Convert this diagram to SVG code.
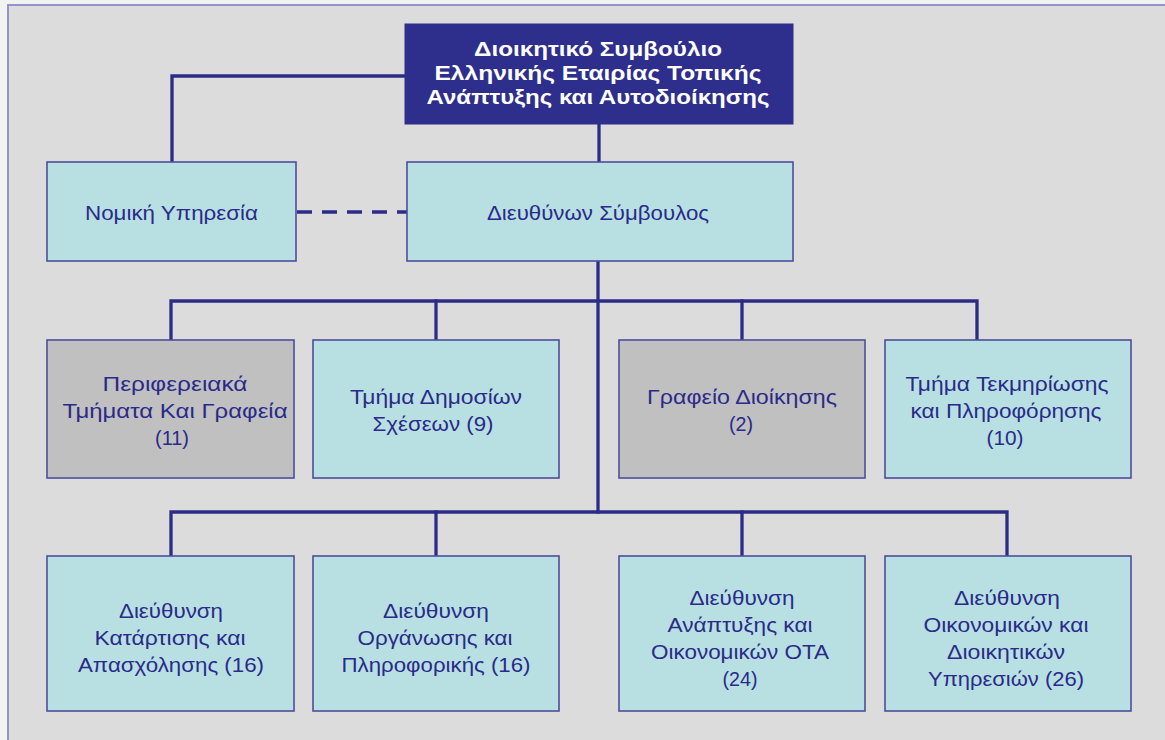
<svg xmlns="http://www.w3.org/2000/svg" width="1165" height="740" viewBox="0 0 1165 740">
<defs>
<style>
.bg{fill:#f2f2f2}
.inner{fill:#dcdcdc}
.frame{stroke:#9393cf;stroke-width:2;fill:none}
.box{fill:#b8e0e2;stroke:#4e4e9e;stroke-width:1.6}
.gray{fill:#c0c0c0;stroke:#4e4e9e;stroke-width:1.6}
.title{fill:#2e2e8c;stroke:#2e2e8c;stroke-width:1}
.conn{stroke:#2c2c86;stroke-width:3.3;fill:none;stroke-linecap:square}
.dash{stroke:#2c2c86;stroke-width:3.3;fill:none;stroke-dasharray:15 10}
text{font-family:"Liberation Sans",Arial,sans-serif;font-size:20.5px;fill:#2a2a8a;text-anchor:middle}
.tt{font-weight:bold;font-size:21px;fill:#ffffff}
</style>
</defs>
<rect class="bg" x="0" y="0" width="1165" height="740"/>
<rect class="inner" x="8" y="5" width="1157" height="735"/>
<path class="frame" d="M8,740 V5 H1165"/>

<g id="connectors">
<path class="conn" d="M405,76 H172 V162"/>
<path class="conn" d="M599,124 V162"/>
<path class="conn" d="M598,261 V512"/>
<path class="conn" d="M171,340 V301 H977 V340"/>
<path class="conn" d="M436,301 V340"/>
<path class="conn" d="M742,301 V340"/>
<path class="conn" d="M171,556 V512 H1007 V556"/>
<path class="conn" d="M436,512 V556"/>
<path class="conn" d="M742,512 V556"/>
<path class="dash" d="M297,212 H407"/>
</g>

<g id="board">
<rect class="title" x="405" y="24" width="388" height="100"/>
<text class="tt" x="598" y="56" textLength="248" lengthAdjust="spacingAndGlyphs">Διοικητικό Συμβούλιο</text>
<text class="tt" x="598" y="80" textLength="327" lengthAdjust="spacingAndGlyphs">Ελληνικής Εταιρίας Τοπικής</text>
<text class="tt" x="598" y="104" textLength="343" lengthAdjust="spacingAndGlyphs">Ανάπτυξης και Αυτοδιοίκησης</text>
</g>

<g id="legal">
<rect class="box" x="47" y="162" width="249" height="99"/>
<text x="171.5" y="220" textLength="173" lengthAdjust="spacingAndGlyphs">Νομική Υπηρεσία</text>
</g>

<g id="ceo">
<rect class="box" x="407" y="162" width="386" height="99"/>
<text x="598" y="220" textLength="222" lengthAdjust="spacingAndGlyphs">Διευθύνων Σύμβουλος</text>
</g>

<g id="regional">
<rect class="gray" x="47" y="340" width="247" height="138"/>
<text x="175" y="391" textLength="145" lengthAdjust="spacingAndGlyphs">Περιφερειακά</text>
<text x="175" y="418" textLength="225" lengthAdjust="spacingAndGlyphs">Τμήματα Και Γραφεία</text>
<text x="172" y="445" textLength="34" lengthAdjust="spacingAndGlyphs">(11)</text>
</g>

<g id="pr">
<rect class="box" x="313" y="340" width="246" height="138"/>
<text x="436" y="404" textLength="172" lengthAdjust="spacingAndGlyphs">Τμήμα Δημοσίων</text>
<text x="433" y="431" textLength="121" lengthAdjust="spacingAndGlyphs">Σχέσεων (9)</text>
</g>

<g id="admin-office">
<rect class="gray" x="619" y="340" width="246" height="138"/>
<text x="742" y="404" textLength="190" lengthAdjust="spacingAndGlyphs">Γραφείο Διοίκησης</text>
<text x="741" y="431" textLength="24" lengthAdjust="spacingAndGlyphs">(2)</text>
</g>

<g id="documentation">
<rect class="box" x="885" y="340" width="246" height="138"/>
<text x="1007" y="391" textLength="203" lengthAdjust="spacingAndGlyphs">Τμήμα Τεκμηρίωσης</text>
<text x="1006" y="418" textLength="191" lengthAdjust="spacingAndGlyphs">και Πληροφόρησης</text>
<text x="1005" y="445" textLength="37" lengthAdjust="spacingAndGlyphs">(10)</text>
</g>

<g id="training">
<rect class="box" x="47" y="556" width="247" height="155"/>
<text x="171" y="618" textLength="104" lengthAdjust="spacingAndGlyphs">Διεύθυνση</text>
<text x="170" y="645" textLength="151" lengthAdjust="spacingAndGlyphs">Κατάρτισης και</text>
<text x="171" y="672" textLength="186" lengthAdjust="spacingAndGlyphs">Απασχόλησης (16)</text>
</g>

<g id="organisation">
<rect class="box" x="313" y="556" width="246" height="155"/>
<text x="436" y="618" textLength="106" lengthAdjust="spacingAndGlyphs">Διεύθυνση</text>
<text x="435" y="645" textLength="155" lengthAdjust="spacingAndGlyphs">Οργάνωσης και</text>
<text x="436" y="672" textLength="189" lengthAdjust="spacingAndGlyphs">Πληροφορικής (16)</text>
</g>

<g id="development">
<rect class="box" x="619" y="556" width="246" height="155"/>
<text x="742" y="605" textLength="105" lengthAdjust="spacingAndGlyphs">Διεύθυνση</text>
<text x="740" y="632" textLength="145" lengthAdjust="spacingAndGlyphs">Ανάπτυξης και</text>
<text x="740" y="659" textLength="178" lengthAdjust="spacingAndGlyphs">Οικονομικών ΟΤΑ</text>
<text x="740" y="686" textLength="35" lengthAdjust="spacingAndGlyphs">(24)</text>
</g>

<g id="finance">
<rect class="box" x="885" y="556" width="246" height="155"/>
<text x="1007" y="605" textLength="106" lengthAdjust="spacingAndGlyphs">Διεύθυνση</text>
<text x="1006" y="632" textLength="165" lengthAdjust="spacingAndGlyphs">Οικονομικών και</text>
<text x="1006" y="659" textLength="118" lengthAdjust="spacingAndGlyphs">Διοικητικών</text>
<text x="1006" y="686" textLength="156" lengthAdjust="spacingAndGlyphs">Υπηρεσιών (26)</text>
</g>
</svg>
